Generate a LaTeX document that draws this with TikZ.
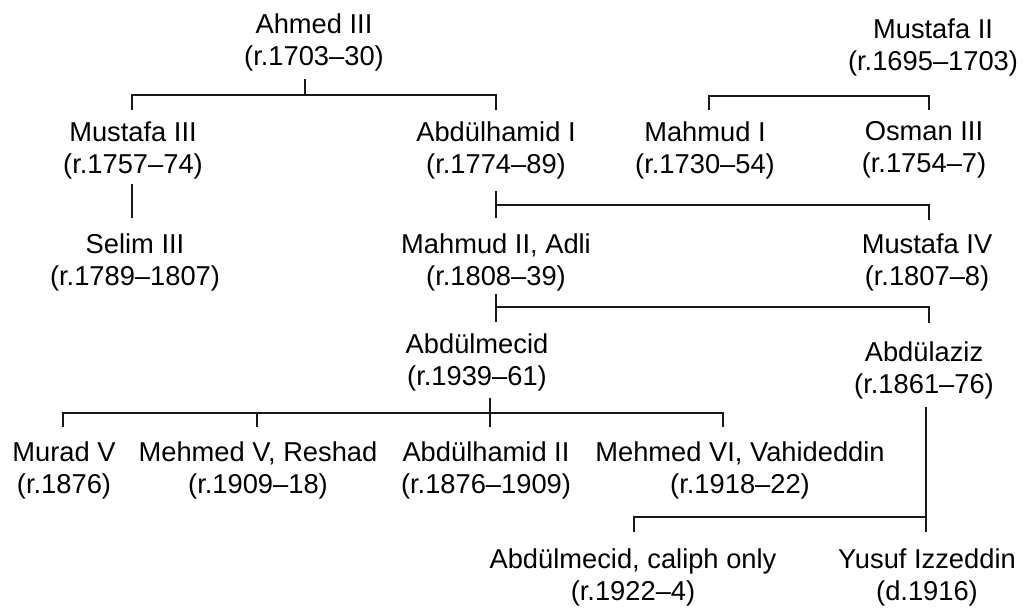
\documentclass[tikz,border=0pt]{standalone}
\usepackage{fontspec}
\setmainfont{Liberation Sans}
\begin{document}
\begin{tikzpicture}[x=1pt,y=-1pt,
  ruler/.style={anchor=north,inner sep=0pt,align=center,text=black,
    font=\fontsize{27.3}{32}\selectfont},
  conn/.style={line width=2.2pt,draw=black!90}]
\useasboundingbox (0,0) rectangle (1032,609);
% nodes
\node[ruler] (ahmed)   at (314,13.3)  {Ahmed III\\(r.1703–30)};
\node[ruler] (must2)   at (933,18.3)  {Mustafa II\\(r.1695–1703)};
\node[ruler] (must3)   at (133,121.7) {Mustafa III\\(r.1757–74)};
\node[ruler] (abdh1)   at (496,121.7) {Abdülhamid I\\(r.1774–89)};
\node[ruler] (mahmud1) at (705,121.7) {Mahmud I\\(r.1730–54)};
\node[ruler] (osman3)  at (924,121.7) {Osman III\\(r.1754–7)};
\node[ruler] (selim)   at (135,233.3) {Selim III\\(r.1789–1807)};
\node[ruler] (mahmud2) at (496,233.3) {Mahmud II, Adli\\(r.1808–39)};
\node[ruler] (must4)   at (927,233.3) {Mustafa IV\\(r.1807–8)};
\node[ruler] (abdmec)  at (477,333.3) {Abdülmecid\\(r.1939–61)};
\node[ruler] (abdaziz) at (924,341.7) {Abdülaziz\\(r.1861–76)};
\node[ruler] (murad)   at (64,441.7)  {Murad V\\(r.1876)};
\node[ruler] (mehmed5) at (258,441.7) {Mehmed V, Reshad\\(r.1909–18)};
\node[ruler] (abdh2)   at (486,441.7) {Abdülhamid II\\(r.1876–1909)};
\node[ruler] (mehmed6) at (740,441.7) {Mehmed VI, Vahideddin\\(r.1918–22)};
\node[ruler] (caliph)  at (633,548.3) {Abdülmecid, caliph only\\(r.1922–4)};
\node[ruler] (yusuf)   at (927,548.3) {Yusuf Izzeddin\\(d.1916)};
% junctions
\coordinate (jA) at (305,95);
\coordinate (jB) at (820,96);
\coordinate (jC) at (496,205);
\coordinate (jD) at (496,307);
\coordinate (jE) at (490,413);
\coordinate (jF) at (926,517);
% connectors
\draw[conn,shorten <=8pt] (jA |- ahmed.south) -- (jA);
\draw[conn,shorten <=11.7pt,shorten >=11.7pt] ([xshift=-1pt]must3.north) |- (jA) -| (abdh1.north);
\draw[conn,shorten <=11.7pt,shorten >=11.7pt] ([xshift=4pt]mahmud1.north) |- (jB) -| ([xshift=5pt]osman3.north);
\draw[conn,shorten <=4.3pt,shorten >=15.3pt] ([xshift=-1pt]must3.south) -- ([xshift=-1pt]must3.south |- selim.north);
\draw[conn,shorten <=11.3pt,shorten >=15.3pt] (abdh1.south) -- (mahmud2.north);
\draw[conn,shorten >=13.3pt] (jC) -| ([xshift=2pt]must4.north);
\draw[conn,shorten <=3pt,shorten >=11.3pt] (mahmud2.south) -- (mahmud2.south |- abdmec.north);
\draw[conn,shorten >=18.7pt] (jD) -| ([xshift=5pt]abdaziz.north);
\draw[conn,shorten <=6.7pt,shorten >=14.7pt] ([xshift=13pt]abdmec.south) -- ([xshift=13pt]abdmec.south |- abdh2.north);
\draw[conn,shorten <=14.7pt,shorten >=14.7pt] ([xshift=-1pt]murad.north) |- (jE) -| ([xshift=-17pt]mehmed6.north);
\draw[conn,shorten >=14.7pt] ([xshift=-1pt]mehmed5.north |- jE) -- ([xshift=-1pt]mehmed5.north);
\draw[conn,shorten <=7.3pt,shorten >=16.3pt] ([xshift=2pt]abdaziz.south) -- ([xshift=2pt]abdaziz.south |- yusuf.north);
\draw[conn,shorten >=16.3pt] (jF) -| ([xshift=1pt]caliph.north);
\end{tikzpicture}
\end{document}
